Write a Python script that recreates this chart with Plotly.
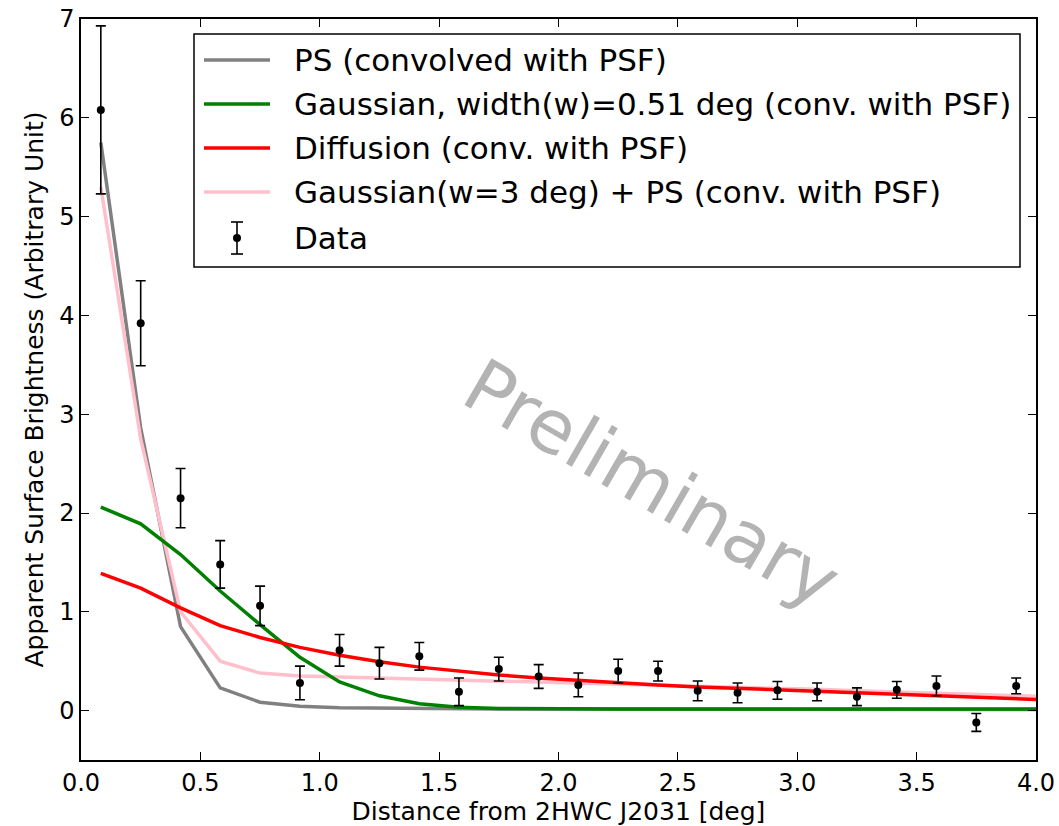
import plotly.graph_objects as go

# Radial bins (deg) where the profile and the models are evaluated
x_bins = [0.083, 0.25, 0.417, 0.583, 0.75, 0.917, 1.083, 1.25, 1.417, 1.583,
          1.75, 1.917, 2.083, 2.25, 2.417, 2.583, 2.75, 2.917, 3.083, 3.25,
          3.417, 3.583, 3.75, 3.917]
x_model = x_bins + [4.083]

# Measured surface brightness and its uncertainty
data_y = [6.08, 3.92, 2.15, 1.48, 1.06, 0.28, 0.61, 0.48, 0.55, 0.19,
          0.42, 0.345, 0.26, 0.40, 0.40, 0.20, 0.18, 0.205, 0.19, 0.14,
          0.21, 0.25, -0.12, 0.25]
data_err = [0.85, 0.43, 0.30, 0.24, 0.20, 0.17, 0.16, 0.16, 0.14, 0.14,
            0.12, 0.12, 0.12, 0.12, 0.10, 0.10, 0.10, 0.09, 0.09, 0.09,
            0.085, 0.10, 0.09, 0.08]

# Model profiles (convolved with the PSF)
ps_model = [5.75, 2.86, 0.85, 0.23, 0.085, 0.045, 0.03, 0.025, 0.02, 0.018,
            0.016, 0.015, 0.014, 0.013, 0.012, 0.012, 0.011, 0.011, 0.01, 0.01,
            0.01, 0.01, 0.01, 0.01, 0.01]
gauss_model = [2.06, 1.89, 1.58, 1.21, 0.87, 0.54, 0.29, 0.15, 0.07, 0.035,
               0.022, 0.018, 0.017, 0.017, 0.017, 0.017, 0.017, 0.017, 0.017, 0.017,
               0.017, 0.017, 0.017, 0.017, 0.017]
diffusion_model = [1.39, 1.24, 1.04, 0.86, 0.74, 0.64, 0.56, 0.495, 0.44, 0.40,
                   0.36, 0.33, 0.305, 0.28, 0.26, 0.24, 0.225, 0.21, 0.19, 0.175,
                   0.16, 0.15, 0.135, 0.12, 0.105]
gauss3_ps_model = [5.3, 2.75, 1.0, 0.50, 0.38, 0.35, 0.34, 0.33, 0.32, 0.31,
                   0.30, 0.29, 0.275, 0.265, 0.255, 0.245, 0.235, 0.225, 0.215, 0.2,
                   0.19, 0.18, 0.165, 0.155, 0.14]

legend_labels = ["PS (convolved with PSF)",
                 "Gaussian, width(w)=0.51 deg (conv. with PSF)",
                 "Diffusion (conv. with PSF)",
                 "Gaussian(w=3 deg) + PS (conv. with PSF)",
                 "Data"]
line_colors = ["#808080", "#008000", "#ff0000", "#ffc0cb"]

x_ticks = [0.0, 0.5, 1.0, 1.5, 2.0, 2.5, 3.0, 3.5, 4.0]
y_ticks = [0, 1, 2, 3, 4, 5, 6, 7]

FONT = "DejaVu Sans"
W, H = 1059, 826
ML, MR, MT, MB = 81, 23, 19, 66
PW, PH = W - ML - MR, H - MT - MB


def px(xp):
    return (xp - ML) / PW


def py(yp):
    return (H - MB - yp) / PH


fig = go.Figure()

models = [ps_model, gauss3_ps_model, gauss_model, diffusion_model]
model_colors = [line_colors[0], line_colors[3], line_colors[1], line_colors[2]]
for vals, col in zip(models, model_colors):
    fig.add_trace(go.Scatter(x=x_model, y=vals, mode="lines",
                             line=dict(color=col, width=3.5),
                             showlegend=False, hoverinfo="skip"))

fig.add_trace(go.Scatter(
    x=x_bins, y=data_y, mode="markers",
    marker=dict(color="black", size=8),
    error_y=dict(type="data", array=data_err, color="black",
                 thickness=1.6, width=5),
    showlegend=False))

# Legend box drawn by hand
shapes = [dict(type="rect", xref="paper", yref="paper",
               x0=px(194), x1=px(1020), y0=py(267), y1=py(34),
               line=dict(color="black", width=1.5), fillcolor="white",
               layer="above")]
annotations = []
row_y = [60, 104, 148, 192, 238]
for i, col in enumerate(line_colors):
    shapes.append(dict(type="line", xref="paper", yref="paper",
                       x0=px(204), x1=px(270), y0=py(row_y[i]), y1=py(row_y[i]),
                       line=dict(color=col, width=3.5), layer="above"))
# error-bar glyph for the data entry
yc = row_y[4]
shapes.append(dict(type="line", xref="paper", yref="paper",
                   x0=px(237), x1=px(237), y0=py(yc - 16), y1=py(yc + 16),
                   line=dict(color="black", width=1.6), layer="above"))
for dy in (-16, 16):
    shapes.append(dict(type="line", xref="paper", yref="paper",
                       x0=px(231), x1=px(243), y0=py(yc + dy), y1=py(yc + dy),
                       line=dict(color="black", width=1.6), layer="above"))
shapes.append(dict(type="circle", xref="paper", yref="paper",
                   x0=px(233), x1=px(241), y0=py(yc - 4), y1=py(yc + 4),
                   line=dict(color="black", width=0), fillcolor="black",
                   layer="above"))
for i, lab in enumerate(legend_labels):
    annotations.append(dict(text=lab, xref="paper", yref="paper",
                            x=px(292), y=py(row_y[i]), xanchor="left",
                            yanchor="middle", showarrow=False,
                            font=dict(family=FONT, size=31, color="black")))

# Watermark
annotations.append(dict(text="Preliminary", x=2.39, y=2.30, xref="x", yref="y",
                        showarrow=False, textangle=30,
                        font=dict(family=FONT, size=74, color="#b3b3b3")))

axis_common = dict(showline=True, linecolor="black", linewidth=1.5, mirror="allticks",
                   ticks="inside", ticklen=8, tickwidth=1, tickcolor="black",
                   showgrid=False, zeroline=False, automargin=False,
                   tickfont=dict(family=FONT, size=24, color="black"))

fig.update_layout(
    width=W, height=H,
    margin=dict(l=ML, r=MR, t=MT, b=MB),
    paper_bgcolor="white", plot_bgcolor="white",
    shapes=shapes, annotations=annotations,
    xaxis=dict(range=[0, 4], tickvals=x_ticks,
               ticktext=[f"{v:.1f}" for v in x_ticks],
               title=dict(text="Distance from 2HWC J2031 [deg]", standoff=6,
                          font=dict(family=FONT, size=25, color="black")),
               **axis_common),
    yaxis=dict(range=[-0.5, 7], tickvals=y_ticks,
               ticktext=[str(v) for v in y_ticks],
               title=dict(text="Apparent Surface Brightness (Arbitrary Unit)", standoff=8,
                          font=dict(family=FONT, size=25, color="black")),
               **axis_common),
)

fig.write_html("out.html")
